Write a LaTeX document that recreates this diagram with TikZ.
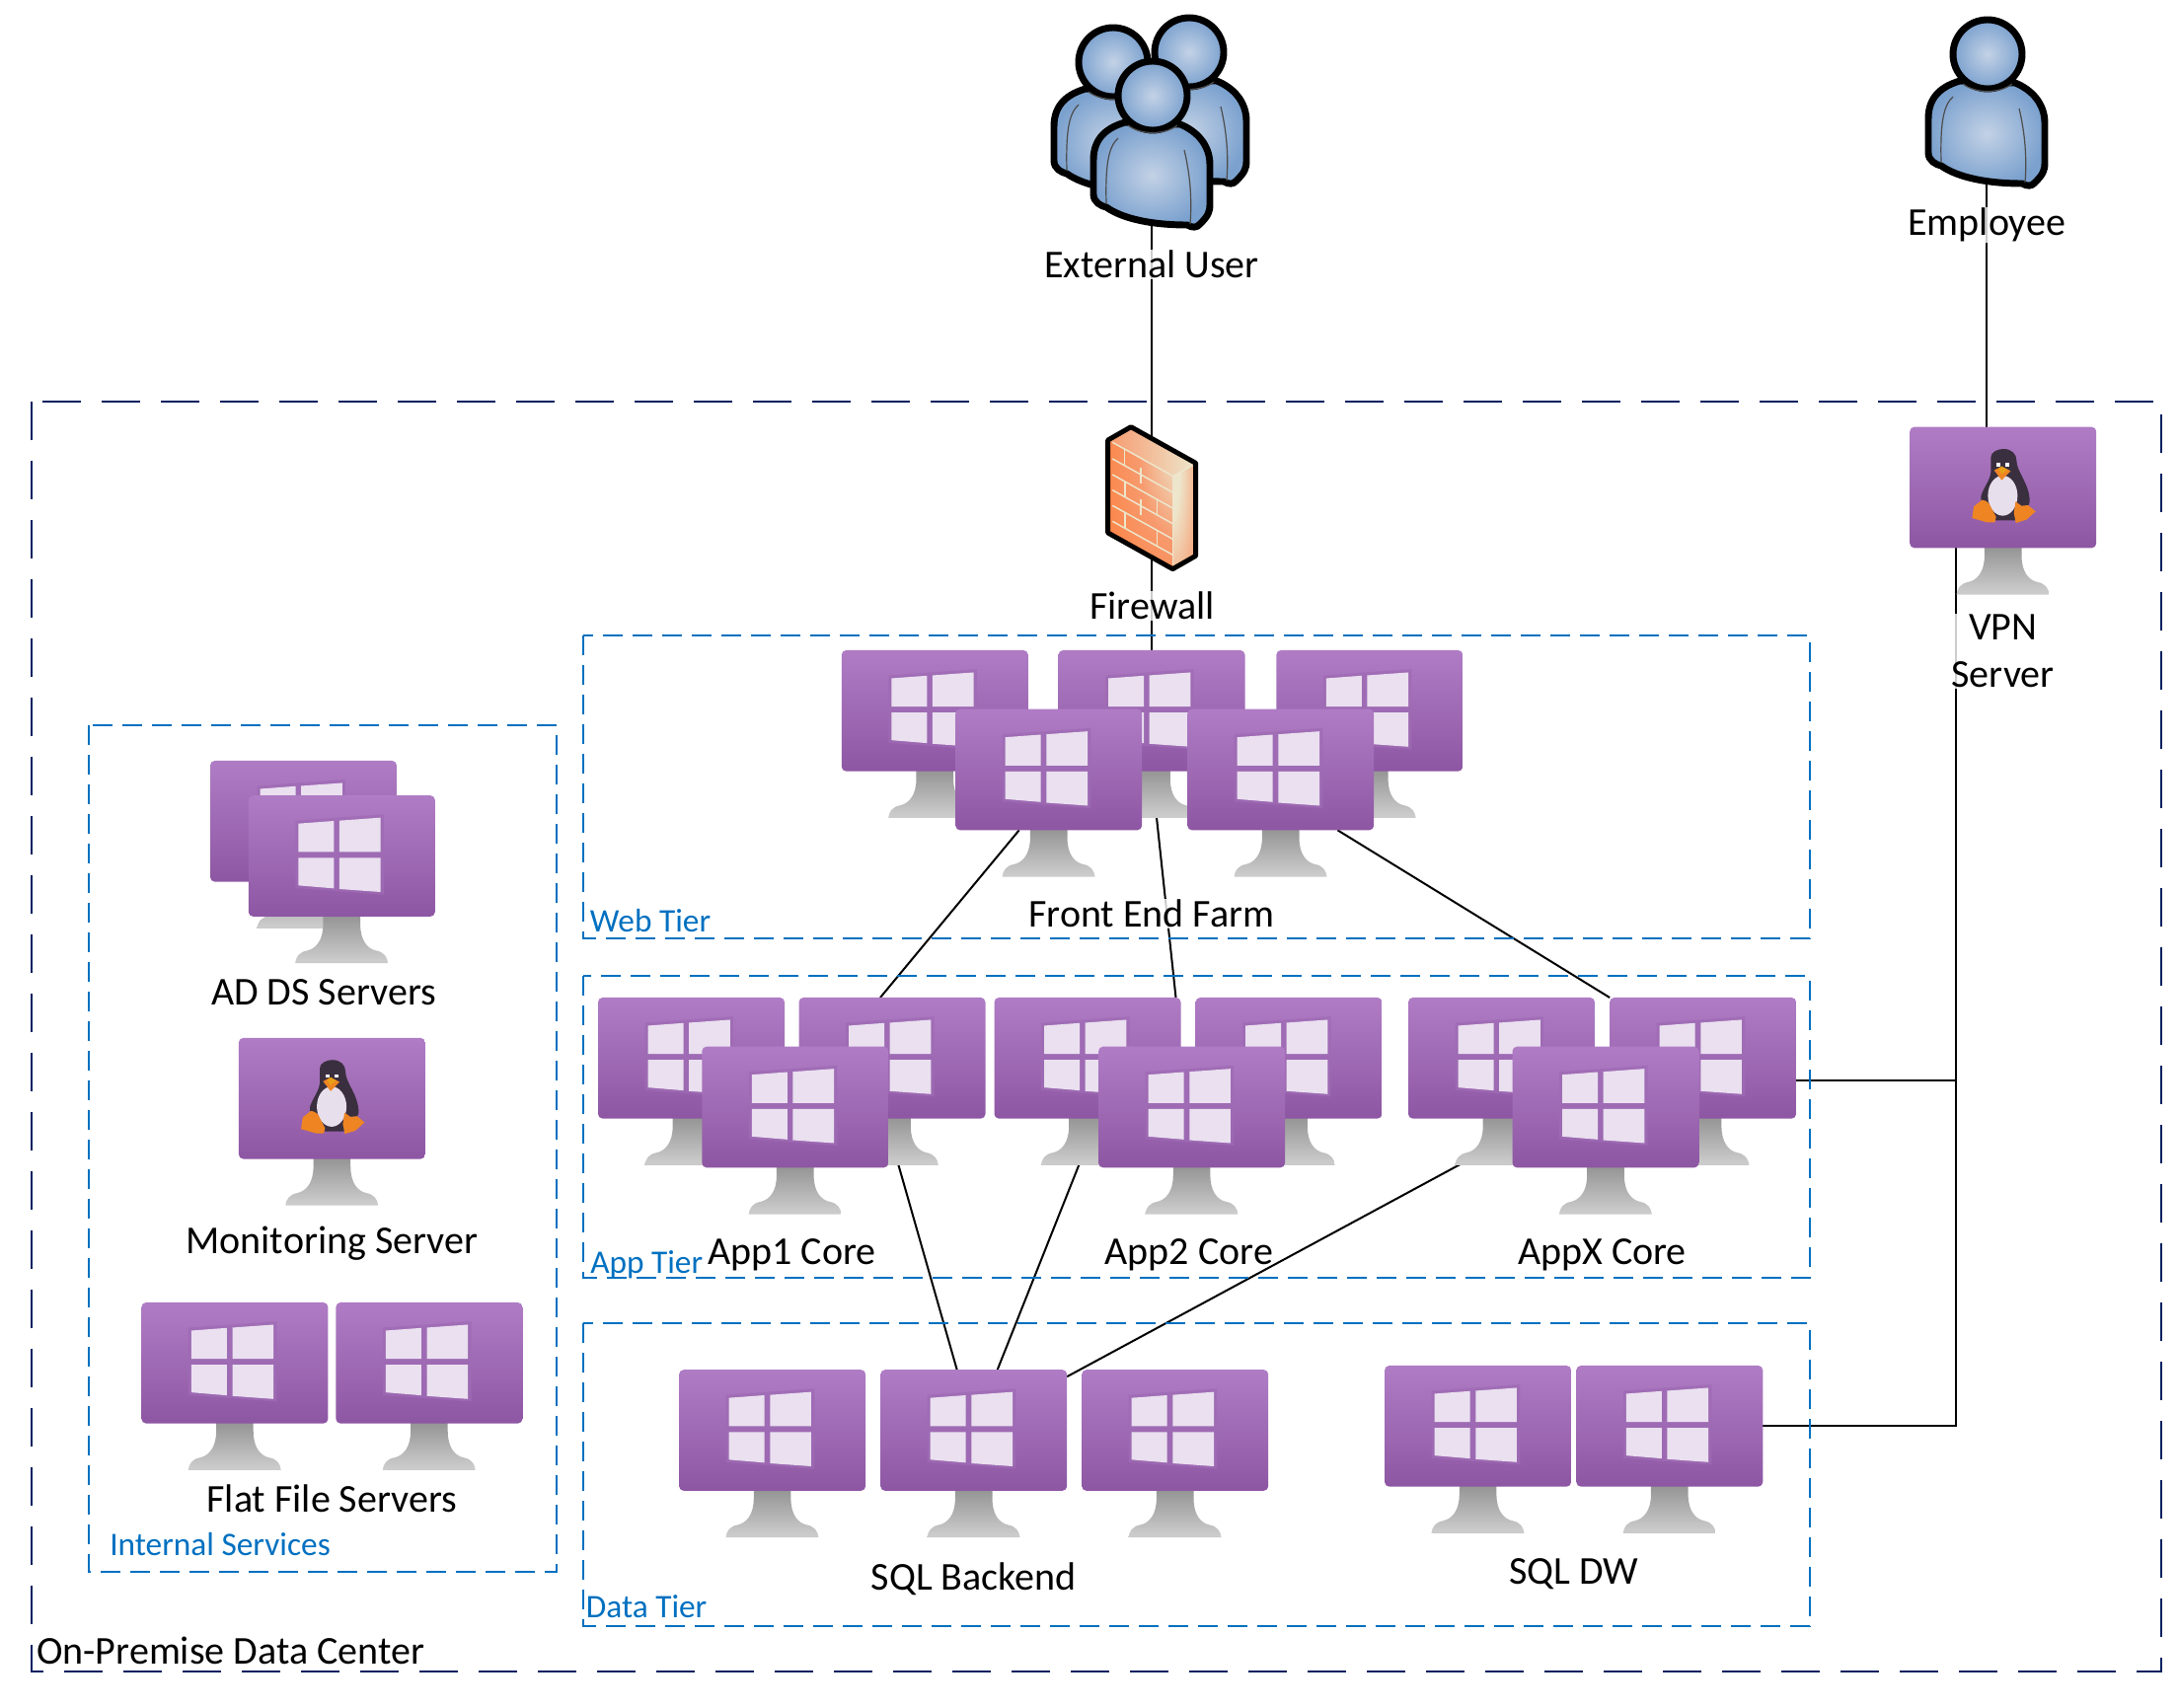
\documentclass[tikz,border=0pt]{standalone}
\usepackage{fontspec}
\setmainfont{Carlito}
\usetikzlibrary{backgrounds,calc}

\definecolor{vmtop}{HTML}{B381C9}
\definecolor{vmmid}{HTML}{9C66B1}
\definecolor{vmbot}{HTML}{7F4795}
\definecolor{standtop}{HTML}{767676}
\definecolor{standbot}{HTML}{CBCBCB}
\definecolor{panecol}{HTML}{EAE0EF}
\definecolor{platecol}{HTML}{9E6BB4}
\definecolor{tierblue}{HTML}{0070C0}
\definecolor{sitenavy}{HTML}{002060}
\definecolor{bodylight}{HTML}{C3D2E6}
\definecolor{bodydark}{HTML}{7BA1CE}
\definecolor{fwcream}{HTML}{EDE6CC}
\definecolor{fwsalmon}{HTML}{F79A6E}
\definecolor{fworange}{HTML}{FF7A33}
\definecolor{tuxdark}{HTML}{3A2F3F}
\definecolor{tuxbelly}{HTML}{E8DFEC}
\definecolor{tuxfoot}{HTML}{EE8522}
\definecolor{tuxbeak}{HTML}{E8A018}

\pgfdeclareverticalshading{vmgrad}{100bp}{color(0bp)=(vmbot); color(6bp)=(vmbot); color(45bp)=(vmmid); color(82bp)=(vmtop); color(100bp)=(vmtop)}
\pgfdeclareverticalshading{standgrad}{100bp}{color(0bp)=(standbot); color(28bp)=(standbot); color(100bp)=(standtop)}
\pgfdeclareradialshading{fwfront}{\pgfpoint{38bp}{22bp}}{color(0bp)=(fwcream); color(6bp)=(fwcream); color(30bp)=(fwsalmon); color(65bp)=(fworange); color(130bp)=(fworange)}
\pgfdeclareradialshading{fwside}{\pgfpoint{-40bp}{25bp}}{color(0bp)=(fwcream); color(22bp)=(fwcream); color(60bp)=(fwsalmon); color(120bp)=(fworange)}

\tikzset{
    vmscreen/.style={shape=rectangle,minimum width=141.75pt,minimum height=92pt,inner sep=0pt,outer sep=0pt,rounded corners=3.5pt,shade,shading=vmgrad},
    hiddenbox/.style={shape=rectangle,minimum width=90pt,minimum height=90pt,inner sep=0pt,outer sep=0pt},
    tierbox/.style={draw=tierblue,line width=1.5pt,dash pattern=on 15pt off 7.5pt},
    sitebox/.style={draw=sitenavy,line width=1.5pt,dash pattern=on 29.5pt off 15.5pt},
    link/.style={draw=black,line width=1.5pt},
    lbl/.style={font=\fontsize{30}{36}\selectfont,inner sep=1pt,fill=white,fill opacity=.8,text opacity=1,align=center},
    tierlbl/.style={font=\fontsize{25}{30}\selectfont,text=tierblue,inner sep=0pt,anchor=west},
    vmstand/.pic={
        \begin{scope}[yscale=-1,x=.25pt,y=.25pt,shift={(-319.5,-322.5)}]
        \shade[shading=standgrad] (263,500) -- (263,530) .. controls (263,580) and (240,604) .. (215,610) .. controls (190,614) and (180,630) .. (178,648) -- (460,648) .. controls (458,630) and (448,614) .. (423,610) .. controls (398,604) and (376,580) .. (376,530) -- (376,500) -- cycle;
        \end{scope}
    },
    winlogo/.pic={
        \begin{scope}[yscale=-1,x=.25pt,y=.25pt,shift={(-319,-322.5)}]
        \fill[platecol,opacity=.8] (178,215) -- (447,196) -- (447,440) -- (178,420) -- cycle;
        \fill[panecol] (187,224) -- (295,216) -- (295,310) -- (187,310) -- cycle;
        \fill[panecol] (312,215) -- (437,206) -- (437,310) -- (312,310) -- cycle;
        \fill[panecol] (187,328) -- (295,328) -- (295,421) -- (187,412) -- cycle;
        \fill[panecol] (312,328) -- (437,328) -- (437,432) -- (312,423) -- cycle;
        \end{scope}
    },
    tuxlogo/.pic={
        \begin{scope}[yscale=-1,x=.25pt,y=.25pt,shift={(-389,-222)}]
        \fill[tuxdark] (390,105) .. controls (415,105) and (430,120) .. (430,140) .. controls (430,175) and (470,210) .. (470,265) .. controls (470,285) and (445,290) .. (435,295) -- (425,322) -- (365,322) -- (345,285) .. controls (330,275) and (318,262) .. (322,248) .. controls (330,220) and (355,195) .. (352,165) -- (352,130) .. controls (352,115) and (372,105) .. (390,105) -- cycle;
        \fill[tuxbelly] (388,247) ellipse [x radius=45,y radius=61];
        \fill[white] (369,148) rectangle (381,158);
        \fill[white] (397,148) rectangle (409,158);
        \fill[tuxfoot] (362,170) -- (385,158) -- (412,172) -- (385,200) -- cycle;
        \fill[tuxbeak] (374,166) -- (385,158) -- (402,168) -- (385,182) -- cycle;
        \fill[tuxfoot] (325,260) .. controls (340,262) and (348,270) .. (352,282) -- (368,312) -- (364,328) -- (340,328) -- (295,315) -- (300,280) -- cycle;
        \fill[tuxfoot] (427,265) -- (445,278) -- (465,276) -- (488,295) -- (460,320) -- (428,330) -- (422,300) -- cycle;
        \end{scope}
    },
    personicon/.pic={
        \begin{scope}[yscale=-1]
        \filldraw[draw=black,line width=5.2pt,line join=round,inner color=bodylight,outer color=bodydark] (-28,27) .. controls (-45,32) and (-60,42) .. (-60,65) -- (-60,100) .. controls (-60,108) and (-52,112) .. (-47,113) .. controls (-30,125) and (0,131) .. (35,131) .. controls (40,134) and (45,134) .. (48,130) .. controls (56,122) and (58,118) .. (58,110) -- (58,70) .. controls (58,50) and (45,36) .. (28,29) -- cycle;
        \draw[draw=black!70,line width=.9pt] (-35,43) .. controls (-45,52) and (-48,70) .. (-47,110);
        \draw[draw=black!70,line width=.9pt] (32,55) .. controls (38,80) and (40,105) .. (38,130);
        \filldraw[draw=black,line width=5.2pt,inner color=bodylight,outer color=bodydark] (0,0) circle [radius=35];
        \draw[draw=black!70,line width=.9pt] (-25,30) .. controls (-12,40) and (12,40) .. (25,30);
        \end{scope}
    },
    firewallicon/.pic={
        \begin{scope}[yscale=-1,x=.25pt,y=.25pt,shift={(-231,-255)}]
        \shade[shading=fwfront] (98,78) -- (295,188) -- (295,470) -- (98,360) -- cycle;
        \shade[left color=fwsalmon,right color=fwcream] (98,78) -- (168,38) -- (365,148) -- (295,188) -- cycle;
        \shade[shading=fwside] (295,188) -- (365,148) -- (365,430) -- (295,470) -- cycle;
        \foreach \rowy in {85,135,183,230,277,325}
            \draw[fwcream,line width=1.1pt] (112,\rowy) -- (295,\rowy+102);
        \draw[fwcream,line width=1.1pt] (295,188) -- (295,455);
        \draw[fwcream,line width=1.1pt] (295,188) -- (355,155);
        \foreach \brickx/\bricky in {148/156,198/211,150/253,248/307,198/306,150/349,248/403}
            \draw[fwcream,line width=1.1pt] (\brickx,\bricky-48) -- (\brickx,\bricky);
        \draw[black,line width=3.7pt,line join=round] (98,78) -- (168,38) -- (365,148) -- (365,430) -- (295,470) -- (98,360) -- cycle;
        \end{scope}
    }
}

\newcommand{\winvm}[2]{%
    \pic at (#2) {vmstand};
    \node[vmscreen] (#1) at (#2) {};
    \pic at (#2) {winlogo};
}
\newcommand{\tuxvm}[2]{%
    \pic at (#2) {vmstand};
    \node[vmscreen] (#1) at (#2) {};
    \pic at (#2) {tuxlogo};
}

\begin{document}
\begin{tikzpicture}[x=0.75pt,y=0.75pt,yscale=-1,xscale=1]
    \useasboundingbox (0,0) rectangle (2207,1731);

    % Dashed boxes
    \draw[sitebox] (32,407) rectangle (2190,1694);
    \draw[tierbox] (90,735) rectangle (564,1593);
    \draw[tierbox] (591,644) rectangle (1834,951);
    \draw[tierbox] (591,989) rectangle (1834,1295);
    \draw[tierbox] (591,1341) rectangle (1834,1648);

    % Users and firewall
    \node[hiddenbox] (extuser) at (1167,150) {};
    \node[hiddenbox] (employee) at (2013.4,120) {};
    \pic at (1205,53) {personicon};
    \pic at (1128,63) {personicon};
    \pic at (1168,97) {personicon};
    \pic at (2014,55) {personicon};
    \node[hiddenbox] (firewall) at (1167,505) {};
    \pic at (1167,505) {firewallicon};

    % VPN
    \tuxvm{vpn}{2029.7,494}

    % Web tier
    \winvm{webA}{947.3,720.3}
    \winvm{webB}{1167,720.3}
    \winvm{webC}{1387.8,720.3}
    \winvm{webD}{1062.7,780}
    \winvm{webE}{1297.7,780}

    % App tier
    \winvm{appA}{700.5,1072.3}
    \winvm{appB}{904,1072.3}
    \winvm{appC}{805.8,1122}
    \winvm{appD}{1102,1072.3}
    \winvm{appE}{1306,1072.3}
    \winvm{appF}{1207.6,1122}
    \winvm{appG}{1521.5,1072.3}
    \winvm{appH}{1725.6,1072.3}
    \winvm{appI}{1627,1122}

    % Data tier
    \winvm{sqlA}{782.6,1449.5}
    \winvm{sqlB}{986.7,1449.5}
    \winvm{sqlC}{1190.7,1449.5}
    \winvm{dwA}{1497.6,1445.3}
    \winvm{dwB}{1691.8,1445.3}

    % Internal services
    \winvm{adA}{307.5,832.3}
    \winvm{adB}{346.3,867.5}
    \tuxvm{monitor}{336.4,1113.2}
    \winvm{fileA}{237.9,1381.3}
    \winvm{fileB}{434.9,1381.3}

    % Connectors
    \coordinate (vpnbus) at (1982,1095);
    \begin{pgfonlayer}{background}
        \draw[link] (extuser.south) -- (firewall.north);
        \draw[link] (firewall.south) -- (webB.north);
        \draw[link] (employee.south) -- (employee.south |- vpn.north);
        \draw[link] ($(webD.south)+(-30,0)$) -- ($(appB.north)+(-12,0)$);
        \draw[link] (webB.south) -- ($(appD.north east)+(-5,0)$);
        \draw[link] ($(webE.south)+(57.7,0)$) -- (appH.north west);
        \draw[link] ($(appB.south)+(-7,0)$) -- ($(sqlB.north)+(-17,0)$);
        \draw[link] ($(appD.south)+(10,0)$) -- ($(sqlB.north)+(24,0)$);
        \draw[link] ($(appG.south)+(44,0)$) -- ($(sqlB.north east)+(0,7)$);
        \draw[link] (appH.east |- vpnbus) -- (vpnbus);
        \draw[link] (vpn.south -| vpnbus) -- (vpnbus |- dwB.east) -- (dwB.east);
    \end{pgfonlayer}

    % Text Node
    \node[lbl] (extuserlbl) at (1167,268) {External User};
    \node[lbl] (employeelbl) at (2013.4,228) {Employee};
    \node[lbl] (firewalllbl) at (1167.5,614) {Firewall};
    \node[lbl] (vpnlbl) at (2029.6,660) {VPN\\Server};
    \node[lbl] (frontlbl) at (1167,926) {Front End Farm};
    \node[lbl] (adlbl) at (328,1006) {AD DS Servers};
    \node[lbl] (monitorlbl) at (336.4,1260) {Monitoring Server};
    \node[lbl] (filelbl) at (336.4,1518.5) {Flat File Servers};
    \node[lbl,fill opacity=0] (applbl) at (802.5,1272) {App1 Core};
    \node[lbl,fill opacity=0] (apptwolbl) at (1204.8,1272) {App2 Core};
    \node[lbl,fill opacity=0] (appxlbl) at (1623.5,1272) {AppX Core};
    \node[lbl] (sqllbl) at (986.7,1600) {SQL Backend};
    \node[lbl] (dwlbl) at (1594.7,1595) {SQL DW};
    \node[lbl,fill opacity=0,anchor=west,inner sep=0pt] (sitelbl) at (37,1673) {On-Premise Data Center};
    \node[tierlbl] (weblbl) at (597.7,933) {Web Tier};
    \node[tierlbl] (apptierlbl) at (598,1281.5) {App Tier};
    \node[tierlbl] (datalbl) at (593.6,1628) {Data Tier};
    \node[tierlbl] (internallbl) at (111,1565) {Internal Services};
\end{tikzpicture}
\end{document}
